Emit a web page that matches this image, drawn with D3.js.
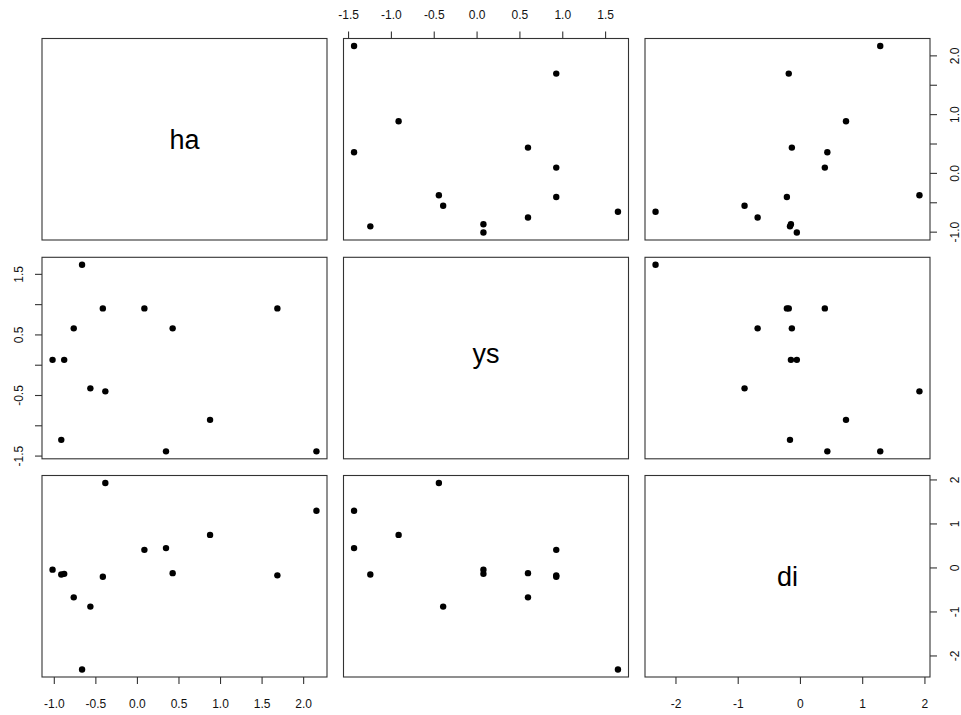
<!DOCTYPE html>
<html>
<head>
<meta charset="utf-8">
<script src="https://cdn.jsdelivr.net/npm/d3@7"></script>
<style>
  html, body { margin: 0; padding: 0; background: #fff; }
  svg { display: block; font-family: "Liberation Sans", Arial, Helvetica, sans-serif; }
</style>
</head>
<body>
<svg id="chart" width="961" height="715"></svg>
<script>
// ---- data ----
const varNames = ["ha", "ys", "di"];
const ha = [2.16, 1.69, 0.88, 0.35, 0.43, 0.09, -0.38, -0.41, -0.56, -0.66, -0.76, -0.91, -0.875, -1.015];
const ys = [-1.43, 0.93, -0.91, -1.43, 0.60, 0.93, -0.44, 0.93, -0.39, 1.65, 0.60, -1.24, 0.08, 0.08];
const di = [1.29, -0.18, 0.74, 0.44, -0.13, 0.40, 1.92, -0.21, -0.89, -2.32, -0.68, -0.16, -0.145, -0.05];

const haTicks = [-1.0, -0.5, 0.0, 0.5, 1.0, 1.5, 2.0];
const ysTicks = [-1.5, -1.0, -0.5, 0.0, 0.5, 1.0, 1.5];
const diTicks = [-2, -1, 0, 1, 2];
// labelled ticks on the vertical axes (R drops overlapping labels)
const haRightLabels = [-1.0, 0.0, 1.0, 2.0];
const ysLeftLabels = [-1.5, -0.5, 0.5, 1.5];

// ---- layout ----
const columns = [ha, ys, di];
const colLeft = [42, 343.5, 645];
const rowTop = [38.5, 257.3, 475.5];
const cellW = 285, cellH = 201.5;
const diagFont = 27;

const svg = d3.select("#chart");

function paddedDomain(arr) {
  const [lo, hi] = d3.extent(arr);
  const pad = (hi - lo) * 0.04;
  return [lo - pad, hi + pad];
}
const xScales = columns.map((arr, j) =>
  d3.scaleLinear().domain(paddedDomain(arr)).range([colLeft[j], colLeft[j] + cellW]));
const yScales = columns.map((arr, i) =>
  d3.scaleLinear().domain(paddedDomain(arr)).range([rowTop[i] + cellH, rowTop[i]]));

// ink-centred vertical offset (like R's centring of the diagonal labels)
const ctx = document.createElement("canvas").getContext("2d");
ctx.font = `${diagFont}px "Liberation Sans", Arial, sans-serif`;
function inkOffset(txt) {
  const m = ctx.measureText(txt);
  const a = m.actualBoundingBoxAscent, d = m.actualBoundingBoxDescent;
  if (!isFinite(a) || !isFinite(d)) return diagFont * 0.35;
  return (a - d) / 2;
}

// ---- panels ----
for (let i = 0; i < 3; i++) {
  for (let j = 0; j < 3; j++) {
    const g = svg.append("g");
    if (i === j) {
      g.append("text")
        .attr("x", colLeft[j] + cellW / 2)
        .attr("y", rowTop[i] + cellH / 2 + inkOffset(varNames[i]))
        .attr("text-anchor", "middle")
        .attr("font-size", diagFont)
        .attr("fill", "#000")
        .text(varNames[i]);
    } else {
      const xs = columns[j], yv = columns[i];
      g.selectAll("circle")
        .data(d3.range(xs.length))
        .join("circle")
        .attr("cx", k => xScales[j](xs[k]))
        .attr("cy", k => yScales[i](yv[k]))
        .attr("r", 3.2)
        .attr("fill", "#000");
    }
    g.append("rect")
      .attr("x", colLeft[j])
      .attr("y", rowTop[i])
      .attr("width", cellW)
      .attr("height", cellH)
      .attr("fill", "none")
      .attr("stroke", "#333")
      .attr("stroke-width", 1.1);
  }
}

// ---- axes ----
const fmt1 = d => d.toFixed(1);
const fmt0 = d => String(d);

function styleAxis(g) {
  g.select(".domain").remove();
  g.selectAll(".tick line").attr("stroke", "#333").attr("stroke-width", 1.1);
  g.selectAll(".tick text").attr("font-size", 12).attr("fill", "#111")
    .attr("font-family", "Liberation Sans, Arial, sans-serif");
}

// top axis: ys (column 2)
svg.append("g")
  .attr("transform", `translate(0,${rowTop[0]})`)
  .call(d3.axisTop(xScales[1]).tickValues(ysTicks).tickFormat(fmt1).tickSize(7).tickSizeOuter(0))
  .call(styleAxis)
  .call(g => g.selectAll(".tick text").attr("y", -20).attr("dy", null));

// bottom axis: ha (column 1)
svg.append("g")
  .attr("transform", `translate(0,${rowTop[2] + cellH})`)
  .call(d3.axisBottom(xScales[0]).tickValues(haTicks).tickFormat(fmt1).tickSize(7).tickSizeOuter(0))
  .call(styleAxis)
  .call(g => g.selectAll(".tick text").attr("y", 30.5).attr("dy", null));

// bottom axis: di (column 3)
svg.append("g")
  .attr("transform", `translate(0,${rowTop[2] + cellH})`)
  .call(d3.axisBottom(xScales[2]).tickValues(diTicks).tickFormat(fmt0).tickSize(7).tickSizeOuter(0))
  .call(styleAxis)
  .call(g => g.selectAll(".tick text").attr("y", 30.5).attr("dy", null));

// right axis: ha (row 1)
svg.append("g")
  .attr("transform", `translate(${colLeft[2] + cellW},0)`)
  .call(d3.axisRight(yScales[0]).tickValues(haTicks)
    .tickFormat(d => haRightLabels.includes(d) ? fmt1(d) : "").tickSize(7).tickSizeOuter(0))
  .call(styleAxis)
  .call(g => g.selectAll(".tick text").attr("x", null).attr("dy", null)
    .attr("text-anchor", "middle").attr("transform", "translate(28.5,0) rotate(-90)"));

// right axis: di (row 3)
svg.append("g")
  .attr("transform", `translate(${colLeft[2] + cellW},0)`)
  .call(d3.axisRight(yScales[2]).tickValues(diTicks).tickFormat(fmt0).tickSize(7).tickSizeOuter(0))
  .call(styleAxis)
  .call(g => g.selectAll(".tick text").attr("x", null).attr("dy", null)
    .attr("text-anchor", "middle").attr("transform", "translate(28.5,0) rotate(-90)"));

// left axis: ys (row 2)
svg.append("g")
  .attr("transform", `translate(${colLeft[0]},0)`)
  .call(d3.axisLeft(yScales[1]).tickValues(ysTicks)
    .tickFormat(d => ysLeftLabels.includes(d) ? fmt1(d) : "").tickSize(7).tickSizeOuter(0))
  .call(styleAxis)
  .call(g => g.selectAll(".tick text").attr("x", null).attr("dy", null)
    .attr("text-anchor", "middle").attr("transform", "translate(-19,0) rotate(-90)"));
</script>
</body>
</html>
